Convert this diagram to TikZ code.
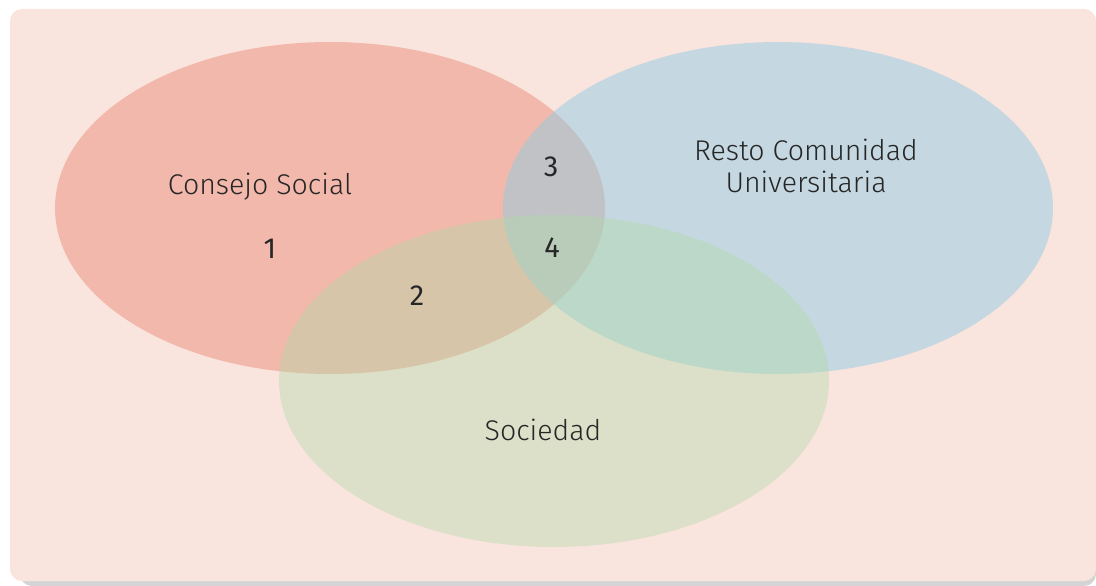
\documentclass[tikz,border=0pt]{standalone}
\usepackage{fontspec}
\setmainfont{Fira Sans Light}
\newfontfamily\numfont{Fira Sans}
\usetikzlibrary{positioning}

\definecolor{panelbg}{RGB}{250,228,222}
\definecolor{panelshadow}{RGB}{212,212,212}
\definecolor{setred}{RGB}{237,155,137}
\definecolor{setblue}{RGB}{146,204,226}
\definecolor{setgreen}{RGB}{175,218,167}

\tikzset{
  setname/.style={font=\fontsize{28.5}{32}\selectfont, text=black!85, align=center},
  setnum/.style={font=\numfont\fontsize{29}{32}\selectfont, text=black!85}
}

\begin{document}
\begin{tikzpicture}[x=1pt, y=-1pt]
        \useasboundingbox (0,0) rectangle (1096,586);
        % panel
        \fill[panelshadow, rounded corners=12pt] (20,20) rectangle (1096,586);
        \fill[panelbg, rounded corners=12pt] (10,9) rectangle (1096,581);

        % sets
        \fill[setred, fill opacity=0.6] (330,208) ellipse [x radius=275, y radius=166];
        \fill[setblue, fill opacity=0.5] (778,208) ellipse [x radius=275, y radius=166];
        \fill[setgreen, fill opacity=0.4] (554,381) ellipse [x radius=275, y radius=166];

        \node[setname] (Consejo) at (260,187) {Consejo Social};
        \node[setname] (Resto) at (806,166) {Resto Comunidad\\Universitaria};
        \node[setname] (Sociedad) at (543,430) {Sociedad};

        \node[setnum] (One) at (270,249) {1};
        \node[setnum] (Two) at (417,296) {2};
        \node[setnum] (Three) at (551,167) {3};
        \node[setnum] (Four) at (552,248) {4};
    \end{tikzpicture}
\end{document}
